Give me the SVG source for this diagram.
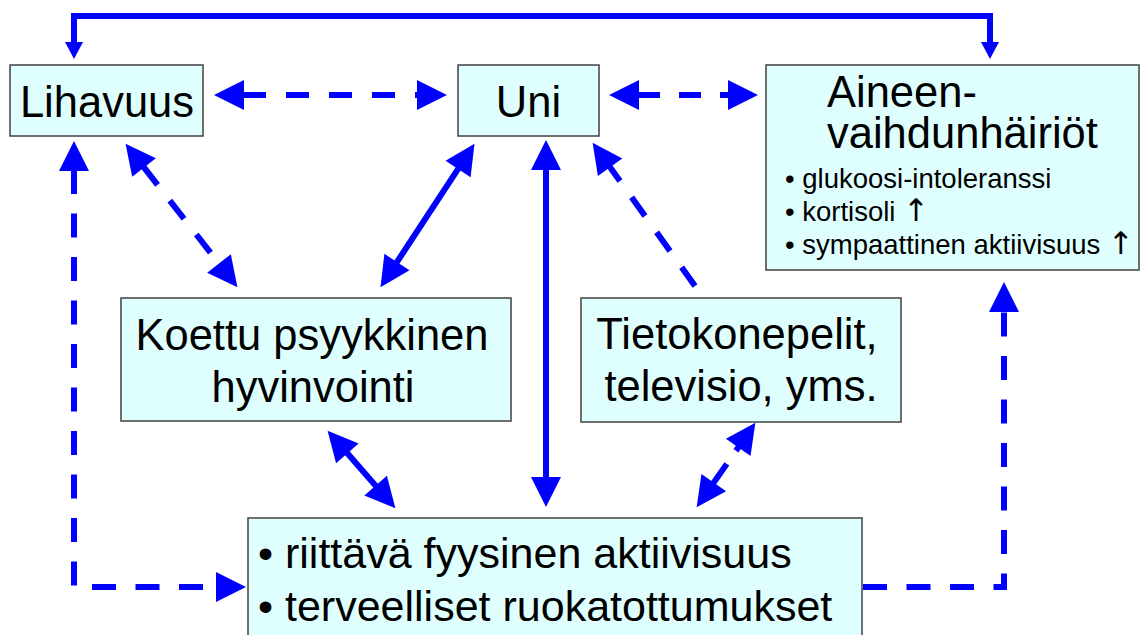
<svg xmlns="http://www.w3.org/2000/svg" width="1141" height="635" viewBox="0 0 1141 635">
<style>
.box{fill:#DFFFFF;stroke:#404040;stroke-width:1.5}
.t{font-family:"Liberation Sans",Arial,sans-serif;fill:#000}
.big{font-size:43.5px}
.bot{font-size:43px}
.small{font-size:27.5px}
.arr{font-family:"DejaVu Sans",sans-serif;font-size:31px}
.c{fill:none;stroke:#0000FF;stroke-width:6;stroke-linejoin:miter}
.d{stroke-dasharray:23 20}
</style>
<defs>
<marker id="ah" viewBox="0 -15 30 30" markerWidth="30" markerHeight="30" refX="1" refY="0" orient="auto-start-reverse" markerUnits="userSpaceOnUse" overflow="visible"><path d="M0,-15 L30,0 L0,15 z" fill="#0000FF"/></marker>
<marker id="as" viewBox="0 -9 17 18" markerWidth="17" markerHeight="18" refX="1" refY="0" orient="auto-start-reverse" markerUnits="userSpaceOnUse" overflow="visible"><path d="M0,-9 L17,0 L0,9 z" fill="#0000FF"/></marker>
</defs>
<g id="connectors">
<path class="c" d="M74,43 L74,16 L990,16 L990,43" marker-start="url(#as)" marker-end="url(#as)"/>
<path class="c d" d="M243,95 L418,95" marker-start="url(#ah)" marker-end="url(#ah)"/>
<path class="c" style="stroke-dasharray:22 19" d="M638,95 L729,95" marker-start="url(#ah)" marker-end="url(#ah)"/>
<path class="c d" d="M143.4,166.7 L219.6,264.3" marker-start="url(#ah)" marker-end="url(#ah)"/>
<path class="c" d="M396.4,262.9 L458.6,168.1" marker-start="url(#ah)" marker-end="url(#ah)"/>
<path class="c" d="M546,169 L546,478" marker-start="url(#ah)" marker-end="url(#ah)"/>
<path class="c d" d="M695,286 L609.5,166.4" marker-end="url(#ah)"/>
<path class="c" style="stroke-dasharray:24 19.5" d="M74,170 L74,587 L217,587" marker-start="url(#ah)" marker-end="url(#ah)"/>
<path class="c" d="M346.7,452.6 L376.3,486.4" marker-start="url(#ah)" marker-end="url(#ah)"/>
<path class="c" style="stroke-dasharray:5 16 40" d="M738.8,446.6 L713.2,483.4" marker-start="url(#ah)" marker-end="url(#ah)"/>
<path class="c" style="stroke-dasharray:24 19.5" d="M863,587 L1004,587 L1004,311" marker-end="url(#ah)"/>
</g>
<g id="lihavuus">
<rect class="box" x="10" y="65" width="193" height="71"/>
<text class="t big" x="107" y="117" text-anchor="middle">Lihavuus</text>
</g>
<g id="uni">
<rect class="box" x="458" y="65" width="141" height="71"/>
<text class="t big" x="528.5" y="117" text-anchor="middle">Uni</text>
</g>
<g id="aineenvaihdunta">
<rect class="box" x="766" y="65" width="373" height="205"/>
<text class="t big" x="827" y="107">Aineen-</text>
<text class="t big" x="827" y="148">vaihdunhäiriöt</text>
<text class="t small" x="785" y="188">• glukoosi-intoleranssi</text>
<text class="t small" x="785" y="221">• kortisoli <tspan class="arr">↑</tspan></text>
<text class="t small" x="785" y="254">• sympaattinen aktiivisuus <tspan class="arr">↑</tspan></text>
</g>
<g id="koettu">
<rect class="box" x="121" y="298" width="390" height="123"/>
<text class="t big" x="312" y="350" text-anchor="middle">Koettu psyykkinen</text>
<text class="t big" x="313" y="402" text-anchor="middle">hyvinvointi</text>
</g>
<g id="tietokonepelit">
<rect class="box" x="581" y="298" width="320" height="124"/>
<text class="t big" x="737" y="349" text-anchor="middle">Tietokonepelit,</text>
<text class="t big" x="741" y="401" text-anchor="middle">televisio, yms.</text>
</g>
<g id="elintavat">
<rect class="box" x="248" y="518" width="614" height="125"/>
<text class="t bot" x="258" y="568">• riittävä fyysinen aktiivisuus</text>
<text class="t bot" x="258" y="621">• terveelliset ruokatottumukset</text>
</g>
</svg>
